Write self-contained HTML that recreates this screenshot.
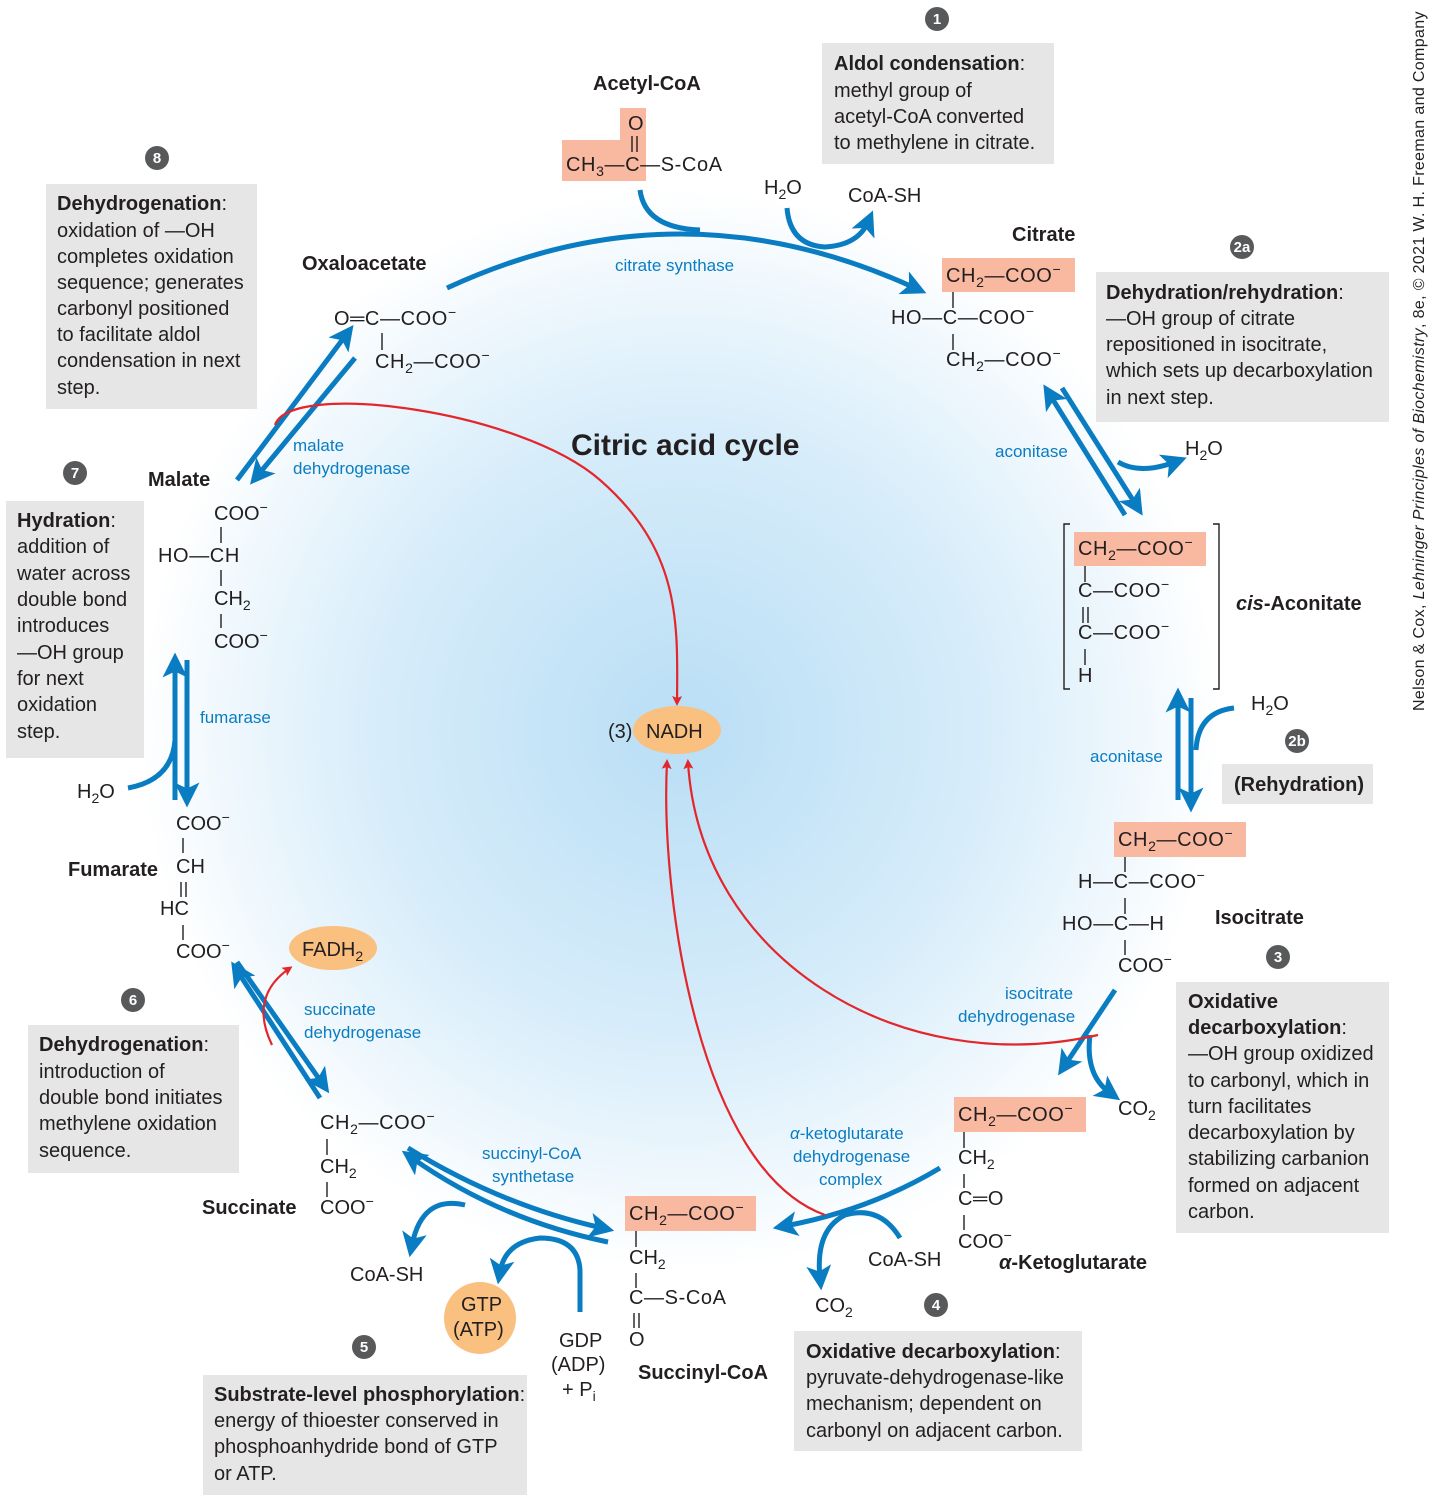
<!DOCTYPE html>
<html><head><meta charset="utf-8"><style>
html,body{margin:0;padding:0;background:#fff}
svg{display:block}
text{font-family:"Liberation Sans",sans-serif;font-size:20px;fill:#231f20}
.b{font-weight:bold}
.e{fill:#0a7cc1;font-size:17px}
.box{fill:#e6e6e6}
.hl{fill:#f9b8a0}
.bl{stroke:#0a7cc1;stroke-width:5;fill:none}
.rd{stroke:#e3262b;stroke-width:2.2;fill:none}
.bd{stroke:#231f20;stroke-width:1.4}
.num{fill:#58595b}
.nt{fill:#fff;font-size:15px;font-weight:bold;text-anchor:middle}
.m{letter-spacing:0.6px}
</style></head><body>
<svg width="1434" height="1502" viewBox="0 0 1434 1502">
<defs>
<radialGradient id="bg" cx="680" cy="730" r="540" gradientUnits="userSpaceOnUse">
<stop offset="0" stop-color="#b9def5"/><stop offset="0.55" stop-color="#d6ecfa"/><stop offset="0.85" stop-color="#f0f8fd"/><stop offset="1" stop-color="#fff"/></radialGradient>
<marker id="ab" markerWidth="5" markerHeight="5" refX="2.5" refY="2.5" orient="auto" markerUnits="strokeWidth"><path d="M0,0 L5,2.5 L0,5 L1.2,2.5z" fill="#0a7cc1"/></marker>
<marker id="ar" markerWidth="10" markerHeight="10" refX="7" refY="5" orient="auto" markerUnits="userSpaceOnUse"><path d="M0,0 L10,5 L0,10 L2,5z" fill="#e3262b"/></marker>
</defs>
<rect x="0" y="0" width="1434" height="1502" fill="url(#bg)"/>

<g>
<rect class="box" x="822" y="43" width="232" height="121"/>
<rect class="box" x="46" y="184" width="211" height="225"/>
<rect class="box" x="1096" y="272" width="293" height="150"/>
<rect class="box" x="6" y="501" width="138" height="257"/>
<rect class="box" x="1222" y="764" width="151" height="40"/>
<rect class="box" x="1176" y="982" width="213" height="251"/>
<rect class="box" x="28" y="1025" width="211" height="148"/>
<rect class="box" x="794" y="1331" width="288" height="120"/>
<rect class="box" x="203" y="1375" width="324" height="120"/>
</g>

<g>
<text x="834" y="70"><tspan class="b">Aldol condensation</tspan>:</text>
<text x="834" y="97">methyl group of</text>
<text x="834" y="123">acetyl-CoA converted</text>
<text x="834" y="149">to methylene in citrate.</text></g>
<g>
<text x="57" y="210"><tspan class="b">Dehydrogenation</tspan>:</text>
<text x="57" y="237">oxidation of —OH</text>
<text x="57" y="263">completes oxidation</text>
<text x="57" y="289">sequence; generates</text>
<text x="57" y="315">carbonyl positioned</text>
<text x="57" y="341">to facilitate aldol</text>
<text x="57" y="367">condensation in next</text>
<text x="57" y="394">step.</text></g>
<g>
<text x="1106" y="299"><tspan class="b">Dehydration/rehydration</tspan>:</text>
<text x="1106" y="325">—OH group of citrate</text>
<text x="1106" y="351">repositioned in isocitrate,</text>
<text x="1106" y="377">which sets up decarboxylation</text>
<text x="1106" y="404">in next step.</text></g>
<g>
<text x="17" y="527"><tspan class="b">Hydration</tspan>:</text>
<text x="17" y="553">addition of</text>
<text x="17" y="580">water across</text>
<text x="17" y="606">double bond</text>
<text x="17" y="632">introduces</text>
<text x="17" y="659">—OH group</text>
<text x="17" y="685">for next</text>
<text x="17" y="711">oxidation</text>
<text x="17" y="738">step.</text></g>
<text class="b" x="1234" y="791">(Rehydration)</text>
<g>
<text class="b" x="1188" y="1008">Oxidative</text>
<text x="1188" y="1034"><tspan class="b">decarboxylation</tspan>:</text>
<text x="1188" y="1060">—OH group oxidized</text>
<text x="1188" y="1087">to carbonyl, which in</text>
<text x="1188" y="1113">turn facilitates</text>
<text x="1188" y="1139">decarboxylation by</text>
<text x="1188" y="1165">stabilizing carbanion</text>
<text x="1188" y="1192">formed on adjacent</text>
<text x="1188" y="1218">carbon.</text></g>
<g>
<text x="39" y="1051"><tspan class="b">Dehydrogenation</tspan>:</text>
<text x="39" y="1078">introduction of</text>
<text x="39" y="1104">double bond initiates</text>
<text x="39" y="1130">methylene oxidation</text>
<text x="39" y="1157">sequence.</text></g>
<g>
<text x="806" y="1358"><tspan class="b">Oxidative decarboxylation</tspan>:</text>
<text x="806" y="1384">pyruvate-dehydrogenase-like</text>
<text x="806" y="1410">mechanism; dependent on</text>
<text x="806" y="1437">carbonyl on adjacent carbon.</text></g>
<g>
<text x="214" y="1401"><tspan class="b">Substrate-level phosphorylation</tspan>:</text>
<text x="214" y="1427">energy of thioester conserved in</text>
<text x="214" y="1453">phosphoanhydride bond of GTP</text>
<text x="214" y="1480">or ATP.</text></g>

<g>
<circle class="num" cx="937" cy="19" r="12"/><text class="nt" x="937" y="24">1</text>
<circle class="num" cx="157" cy="158" r="12"/><text class="nt" x="157" y="163">8</text>
<circle class="num" cx="1242" cy="247" r="12"/><text class="nt" x="1242" y="252">2a</text>
<circle class="num" cx="75" cy="473" r="12"/><text class="nt" x="75" y="478">7</text>
<circle class="num" cx="1297" cy="741" r="12"/><text class="nt" x="1297" y="746">2b</text>
<circle class="num" cx="1278" cy="957" r="12"/><text class="nt" x="1278" y="962">3</text>
<circle class="num" cx="133" cy="1000" r="12"/><text class="nt" x="133" y="1005">6</text>
<circle class="num" cx="936" cy="1305" r="12"/><text class="nt" x="936" y="1310">4</text>
<circle class="num" cx="364" cy="1347" r="12"/><text class="nt" x="364" y="1352">5</text>
</g>

<text class="b" x="571" y="455" style="font-size:30px">Citric acid cycle</text>

<g>
<path class="bl" d="M447,288 Q680,180 915,288" marker-end="url(#ab)"/>
<path class="bl" d="M640,190 Q645,228 700,230"/>
<path class="bl" d="M787,208 Q790,245 825,247 Q858,245 868,222" marker-end="url(#ab)"/>
<path class="bl" d="M1125,515 L1050,395" marker-end="url(#ab)"/>
<path class="bl" d="M1062,388 L1136,505" marker-end="url(#ab)"/>
<path class="bl" d="M1118,462 Q1140,475 1175,462" marker-end="url(#ab)"/>
<path class="bl" d="M1178,800 L1178,700" marker-end="url(#ab)"/>
<path class="bl" d="M1191,698 L1191,800" marker-end="url(#ab)"/>
<path class="bl" d="M1234,708 Q1198,712 1196,750"/>
<path class="bl" d="M1115,990 L1065,1065" marker-end="url(#ab)"/>
<path class="bl" d="M1090,1035 Q1085,1075 1110,1093" marker-end="url(#ab)"/>
<path class="bl" d="M940,1168 Q870,1210 785,1226" marker-end="url(#ab)"/>
<path class="bl" d="M900,1238 Q880,1205 845,1215 Q815,1230 820,1278" marker-end="url(#ab)"/>
<path class="bl" d="M608,1242 Q500,1220 412,1158" marker-end="url(#ab)"/>
<path class="bl" d="M408,1148 Q500,1205 602,1228" marker-end="url(#ab)"/>
<path class="bl" d="M580,1312 L580,1270 Q578,1238 540,1238 Q505,1242 500,1272" marker-end="url(#ab)"/>
<path class="bl" d="M465,1205 Q422,1195 412,1245" marker-end="url(#ab)"/>
<path class="bl" d="M320,1098 L238,972" marker-end="url(#ab)"/>
<path class="bl" d="M237,962 L322,1083" marker-end="url(#ab)"/>
<path class="bl" d="M175,800 L175,665" marker-end="url(#ab)"/>
<path class="bl" d="M187,660 L187,795" marker-end="url(#ab)"/>
<path class="bl" d="M128,788 Q172,780 175,740"/>
<path class="bl" d="M237,480 L346,335" marker-end="url(#ab)"/>
<path class="bl" d="M355,358 L258,475" marker-end="url(#ab)"/>
</g>

<g>
<path class="rd" d="M275,425 C290,380 520,410 600,480 C680,550 678,620 677,703" marker-end="url(#ar)"/>
<path class="rd" d="M1098,1035 C900,1080 700,960 688,762" marker-end="url(#ar)"/>
<path class="rd" d="M825,1215 C700,1170 660,900 667,762" marker-end="url(#ar)"/>
<path class="rd" d="M272,1045 C255,1010 265,985 290,968" marker-end="url(#ar)"/>
</g>

<g>
<text class="e" x="615" y="271">citrate synthase</text>
<text class="e" x="995" y="457">aconitase</text>
<text class="e" x="1090" y="762">aconitase</text>
<text class="e" x="1005" y="999">isocitrate</text><text class="e" x="958" y="1022">dehydrogenase</text>
<text class="e" x="790" y="1139"><tspan font-style="italic">α</tspan>-ketoglutarate</text><text class="e" x="793" y="1162">dehydrogenase</text><text class="e" x="819" y="1185">complex</text>
<text class="e" x="482" y="1159">succinyl-CoA</text><text class="e" x="492" y="1182">synthetase</text>
<text class="e" x="304" y="1015">succinate</text><text class="e" x="304" y="1038">dehydrogenase</text>
<text class="e" x="200" y="723">fumarase</text>
<text class="e" x="293" y="451">malate</text><text class="e" x="293" y="474">dehydrogenase</text>
</g>

<g>
<text x="764" y="194">H<tspan font-size="14" dy="5">2</tspan><tspan dy="-5">O</tspan></text>
<text x="848" y="202">CoA-SH</text>
<text x="1185" y="455">H<tspan font-size="14" dy="5">2</tspan><tspan dy="-5">O</tspan></text>
<text x="1251" y="710">H<tspan font-size="14" dy="5">2</tspan><tspan dy="-5">O</tspan></text>
<text x="1118" y="1115">CO<tspan font-size="14" dy="5">2</tspan></text>
<text x="868" y="1266">CoA-SH</text>
<text x="815" y="1312">CO<tspan font-size="14" dy="5">2</tspan></text>
<text x="350" y="1281">CoA-SH</text>
<text x="559" y="1347">GDP</text><text x="551" y="1371">(ADP)</text>
<text x="562" y="1396">+ P<tspan font-size="14" dy="5">i</tspan></text>
<text x="77" y="798">H<tspan font-size="14" dy="5">2</tspan><tspan dy="-5">O</tspan></text>
<ellipse cx="677" cy="730" rx="44" ry="24" fill="#f9c07f"/>
<text x="608" y="738">(3)</text><text x="646" y="738">NADH</text>
<ellipse cx="333" cy="948" rx="44" ry="22" fill="#f9c07f"/>
<text x="302" y="956">FADH<tspan font-size="14" dy="5">2</tspan></text>
<circle cx="480" cy="1318" r="36" fill="#f9c07f"/>
<text x="461" y="1311">GTP</text><text x="453" y="1336">(ATP)</text>
</g>

<g>
<text class="b" x="593" y="90">Acetyl-CoA</text>
<rect class="hl" x="562" y="140" width="84" height="41"/><rect class="hl" x="620" y="108" width="26" height="32"/>
<text x="628" y="130">O</text>
<line class="bd" x1="632" y1="136" x2="632" y2="152"/><line class="bd" x1="637" y1="136" x2="637" y2="152"/>
<text class="m" x="566" y="171">CH<tspan font-size="14" dy="5">3</tspan><tspan dy="-5">—C—S-CoA</tspan></text>
</g>
<g>
<text class="b" x="1012" y="241">Citrate</text>
<rect class="hl" x="942" y="258" width="133" height="34"/>
<text class="m" x="946" y="282">CH<tspan font-size="14" dy="5">2</tspan><tspan dy="-5">—COO</tspan><tspan font-size="14" dy="-8">−</tspan></text>
<line class="bd" x1="953" y1="292" x2="953" y2="308"/>
<text class="m" x="891" y="324">HO—C—COO<tspan font-size="14" dy="-8">−</tspan></text>
<line class="bd" x1="953" y1="334" x2="953" y2="350"/>
<text class="m" x="946" y="366">CH<tspan font-size="14" dy="5">2</tspan><tspan dy="-5">—COO</tspan><tspan font-size="14" dy="-8">−</tspan></text>
</g>
<g>
<text class="b" x="302" y="270">Oxaloacetate</text>
<text class="m" x="334" y="325">O═C—COO<tspan font-size="14" dy="-8">−</tspan></text>
<line class="bd" x1="382" y1="333" x2="382" y2="350"/>
<text class="m" x="375" y="368">CH<tspan font-size="14" dy="5">2</tspan><tspan dy="-5">—COO</tspan><tspan font-size="14" dy="-8">−</tspan></text>
</g>
<g>
<text class="b" x="148" y="486">Malate</text>
<text x="214" y="520">COO<tspan font-size="14" dy="-8">−</tspan></text>
<line class="bd" x1="221" y1="527" x2="221" y2="543"/>
<text class="m" x="158" y="562">HO—CH</text>
<line class="bd" x1="221" y1="570" x2="221" y2="586"/>
<text x="214" y="605">CH<tspan font-size="14" dy="5">2</tspan></text>
<line class="bd" x1="221" y1="614" x2="221" y2="628"/>
<text x="214" y="648">COO<tspan font-size="14" dy="-8">−</tspan></text>
</g>
<g>
<path d="M1070,524 L1064,524 L1064,689 L1070,689 M1213,524 L1219,524 L1219,689 L1213,689" stroke="#231f20" stroke-width="1.4" fill="none"/>
<rect class="hl" x="1074" y="532" width="132" height="34"/>
<text class="m" x="1078" y="555">CH<tspan font-size="14" dy="5">2</tspan><tspan dy="-5">—COO</tspan><tspan font-size="14" dy="-8">−</tspan></text>
<line class="bd" x1="1085" y1="566" x2="1085" y2="582"/>
<text class="m" x="1078" y="597">C—COO<tspan font-size="14" dy="-8">−</tspan></text>
<line class="bd" x1="1083" y1="607" x2="1083" y2="623"/><line class="bd" x1="1088" y1="607" x2="1088" y2="623"/>
<text class="m" x="1078" y="639">C—COO<tspan font-size="14" dy="-8">−</tspan></text>
<line class="bd" x1="1085" y1="649" x2="1085" y2="665"/>
<text x="1078" y="682">H</text>
<text class="b" x="1236" y="610"><tspan font-style="italic">cis</tspan>-Aconitate</text>
</g>
<g>
<rect class="hl" x="1114" y="822" width="132" height="35"/>
<text class="m" x="1118" y="846">CH<tspan font-size="14" dy="5">2</tspan><tspan dy="-5">—COO</tspan><tspan font-size="14" dy="-8">−</tspan></text>
<line class="bd" x1="1125" y1="857" x2="1125" y2="872"/>
<text class="m" x="1078" y="888">H—C—COO<tspan font-size="14" dy="-8">−</tspan></text>
<line class="bd" x1="1125" y1="898" x2="1125" y2="914"/>
<text class="m" x="1062" y="930">HO—C—H</text>
<line class="bd" x1="1125" y1="940" x2="1125" y2="955"/>
<text x="1118" y="972">COO<tspan font-size="14" dy="-8">−</tspan></text>
<text class="b" x="1215" y="924">Isocitrate</text>
</g>
<g>
<rect class="hl" x="954" y="1097" width="132" height="35"/>
<text class="m" x="958" y="1121">CH<tspan font-size="14" dy="5">2</tspan><tspan dy="-5">—COO</tspan><tspan font-size="14" dy="-8">−</tspan></text>
<line class="bd" x1="964" y1="1132" x2="964" y2="1148"/>
<text x="958" y="1164">CH<tspan font-size="14" dy="5">2</tspan></text>
<line class="bd" x1="964" y1="1174" x2="964" y2="1188"/>
<text class="m" x="958" y="1205">C═O</text>
<line class="bd" x1="964" y1="1215" x2="964" y2="1230"/>
<text x="958" y="1248">COO<tspan font-size="14" dy="-8">−</tspan></text>
<text class="b" x="999" y="1269"><tspan font-style="italic">α</tspan>-Ketoglutarate</text>
</g>
<g>
<rect class="hl" x="625" y="1196" width="131" height="35"/>
<text class="m" x="629" y="1220">CH<tspan font-size="14" dy="5">2</tspan><tspan dy="-5">—COO</tspan><tspan font-size="14" dy="-8">−</tspan></text>
<line class="bd" x1="636" y1="1231" x2="636" y2="1247"/>
<text x="629" y="1264">CH<tspan font-size="14" dy="5">2</tspan></text>
<line class="bd" x1="636" y1="1273" x2="636" y2="1288"/>
<text class="m" x="629" y="1304">C—S-CoA</text>
<line class="bd" x1="634" y1="1313" x2="634" y2="1328"/><line class="bd" x1="639" y1="1313" x2="639" y2="1328"/>
<text x="629" y="1346">O</text>
<text class="b" x="638" y="1379">Succinyl-CoA</text>
</g>
<g>
<text class="m" x="320" y="1129">CH<tspan font-size="14" dy="5">2</tspan><tspan dy="-5">—COO</tspan><tspan font-size="14" dy="-8">−</tspan></text>
<line class="bd" x1="327" y1="1139" x2="327" y2="1155"/>
<text x="320" y="1173">CH<tspan font-size="14" dy="5">2</tspan></text>
<line class="bd" x1="327" y1="1182" x2="327" y2="1197"/>
<text x="320" y="1214">COO<tspan font-size="14" dy="-8">−</tspan></text>
<text class="b" x="202" y="1214">Succinate</text>
</g>
<g>
<text x="176" y="830">COO<tspan font-size="14" dy="-8">−</tspan></text>
<line class="bd" x1="183" y1="838" x2="183" y2="853"/>
<text x="176" y="873">CH</text>
<line class="bd" x1="181" y1="882" x2="181" y2="897"/><line class="bd" x1="186" y1="882" x2="186" y2="897"/>
<text x="160" y="915">HC</text>
<line class="bd" x1="183" y1="925" x2="183" y2="940"/>
<text x="176" y="958">COO<tspan font-size="14" dy="-8">−</tspan></text>
<text class="b" x="68" y="876">Fumarate</text>
</g>

<text x="0" y="0" transform="translate(1424,711) rotate(-90)" style="font-size:16px;letter-spacing:0.35px">Nelson &amp; Cox, <tspan font-style="italic">Lehninger Principles of Biochemistry</tspan>, 8e, © 2021 W. H. Freeman and Company</text>
</svg>
</body></html>
